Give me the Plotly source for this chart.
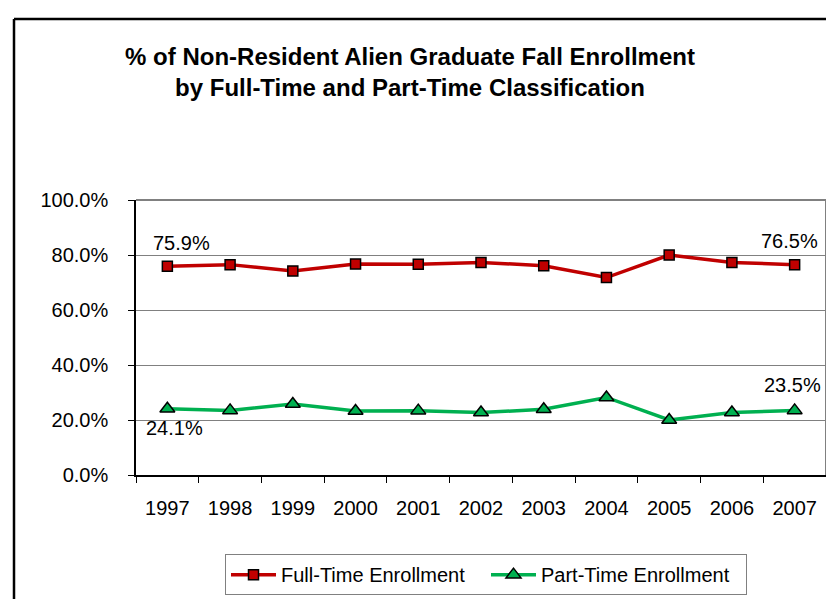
import plotly.graph_objects as go

years = ["1997", "1998", "1999", "2000", "2001", "2002", "2003", "2004", "2005", "2006", "2007"]
full_time = [75.9, 76.5, 74.2, 76.7, 76.6, 77.3, 76.1, 71.8, 80.0, 77.3, 76.5]
part_time = [24.1, 23.5, 25.8, 23.3, 23.4, 22.7, 23.9, 28.2, 20.0, 22.7, 23.5]
y_ticks = [0, 20, 40, 60, 80, 100]
y_tick_labels = ["0.0%", "20.0%", "40.0%", "60.0%", "80.0%", "100.0%"]

FONT = "Liberation Sans, Arial, sans-serif"
RED = "#C00000"
GREEN = "#00B050"

fig = go.Figure()
fig.add_trace(go.Scatter(
    x=years, y=full_time, name="Full-Time Enrollment", mode="lines+markers",
    line=dict(color=RED, width=3.5),
    marker=dict(symbol="square", size=10, color=RED, line=dict(color="black", width=1.5)),
))
fig.add_trace(go.Scatter(
    x=years, y=part_time, name="Part-Time Enrollment", mode="lines+markers",
    line=dict(color=GREEN, width=3.5),
    marker=dict(symbol="triangle-up", size=13, color=GREEN, line=dict(color="black", width=1.5)),
))

# data labels (first and last points); x given as category index
first, last = 0, len(years) - 1
labels = [
    (first, full_time[first], 14, 23),
    (first, part_time[first], 7, -19),
    (last, full_time[last], -5, 24),
    (last, part_time[last], -2, 25),
]
for x, y, dx, dy in labels:
    fig.add_annotation(x=x, y=y, xref="x", yref="y", text=f"{y:.1f}%", showarrow=False,
                       xshift=dx, yshift=dy, font=dict(family=FONT, size=20, color="black"))

# plot-area top/right border (gray)
fig.add_shape(type="line", xref="paper", yref="paper", x0=0, x1=1, y0=1, y1=1,
              line=dict(color="#808080", width=2))
fig.add_shape(type="line", xref="paper", yref="paper", x0=1, x1=1, y0=0, y1=1,
              line=dict(color="#808080", width=2))
# outer chart border (left and top visible)
L, R, T, B = 128, 16, 192, 129
PW, PH = 834 - L - R, 599 - T - B
bx = (6 - L) / PW
by = 1 + (T - 9) / PH
fig.add_shape(type="line", xref="paper", yref="paper", x0=bx, x1=bx, y0=-2, y1=by,
              line=dict(color="black", width=2.5))
fig.add_shape(type="line", xref="paper", yref="paper", x0=bx, x1=3, y0=by, y1=by,
              line=dict(color="black", width=2.5))

fig.update_layout(
    width=834, height=599,
    margin=dict(l=L, r=R, t=T, b=B),
    paper_bgcolor="white", plot_bgcolor="white",
    font=dict(family=FONT, size=20, color="black"),
    title=dict(
        text="<b>% of Non-Resident Alien Graduate Fall Enrollment<br>by Full-Time and Part-Time Classification</b>",
        x=402 / 834, xanchor="center", y=1 - 57 / 599, yanchor="top",
        font=dict(family=FONT, size=24, color="black"),
    ),
    showlegend=True,
    legend=dict(
        orientation="h", x=(478 - L) / PW, xanchor="center", y=(470 - 550) / PH, yanchor="top",
        bordercolor="#808080", borderwidth=1, font=dict(family=FONT, size=20),
        bgcolor="white", itemwidth=45, entrywidth=200,
    ),
)
fig.update_xaxes(
    type="category", range=[-0.5, len(years) - 0.5],
    showgrid=False, showline=True, linecolor="black", linewidth=1.5,
    ticks="outside", ticklen=6, tickcolor="black", tickson="boundaries",
    ticklabelstandoff=14, tickfont=dict(family=FONT, size=20), tickangle=0,
)
fig.update_yaxes(
    range=[0, 100], tickvals=y_ticks, ticktext=y_tick_labels,
    showgrid=True, gridcolor="#808080", gridwidth=1,
    showline=True, linecolor="black", linewidth=1.5,
    ticks="outside", ticklen=6, tickcolor="black",
    ticklabelstandoff=16, tickfont=dict(family=FONT, size=20), zeroline=False,
)

fig.write_html("out.html")
